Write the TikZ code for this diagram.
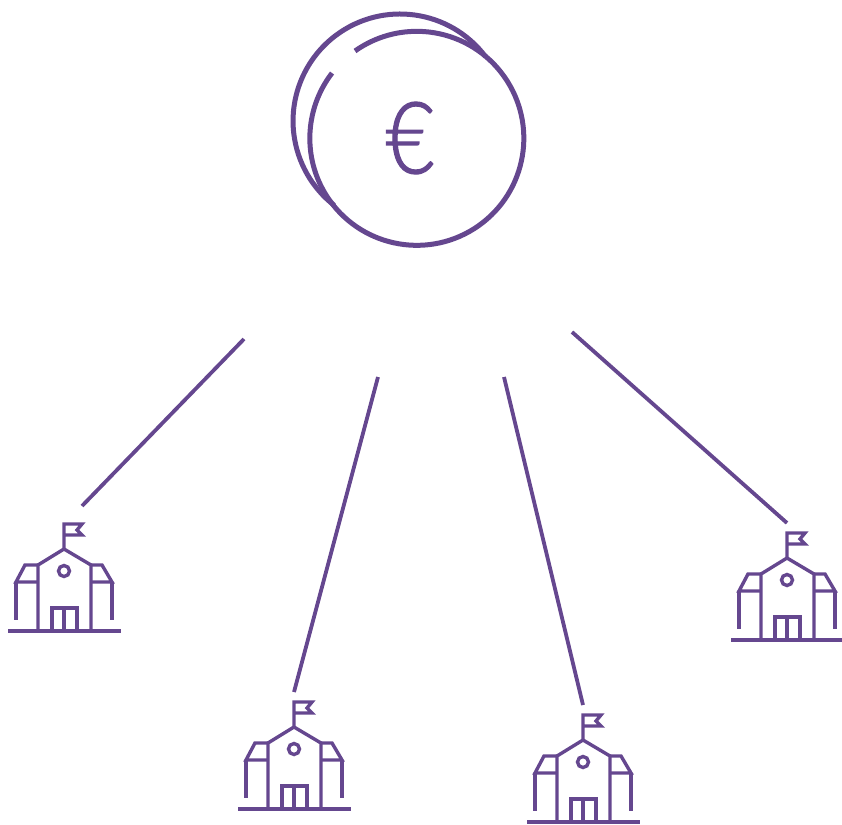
\documentclass[tikz,border=0pt]{standalone}
\usepackage{fontspec}
\newfontfamily\eurofont[FakeBold=1.2, FakeStretch=0.84]{Lato Light}
\definecolor{iconColor}{RGB}{101,71,143}
\tikzset{iconline/.style={draw=iconColor, line width=3.4pt}}
\tikzset{coinline/.style={draw=iconColor, line width=5pt}}
\tikzset{linkline/.style={draw=iconColor, line width=3.8pt}}
\tikzset{school/.pic={
	% body and roof
	\draw [iconline] (-26,82) -- (-26,16) -- (0,0) -- (27,16) -- (27,82);
	% wings
	\draw [iconline] (-26,16) -- (-39,16) -- (-48,33) -- (-26,33);
	\draw [iconline] (-48,33) -- (-48,71);
	\draw [iconline] (27,16) -- (38,16) -- (48,33) -- (27,33);
	\draw [iconline] (48,33) -- (48,71);
	% flag
	\draw [iconline] (0,0) -- (0,-25) -- (18,-25) -- (13,-19) -- (18,-14) -- (0,-14);
	% window and door
	\draw [iconline] (0,22) circle (5.5);
	\draw [iconline] (-12,82) -- (-12,59) -- (13,59) -- (13,82);
	\draw [iconline] (0,59) -- (0,82);
	% ground
	\draw [draw=iconColor, line width=3.8pt] (-56,82) -- (57,82);
}}

\begin{document}
\begin{tikzpicture}[x=1pt, y=-1pt]
	\useasboundingbox (0,0) rectangle (842,824);
	% Coin
	\draw [coinline] (485.5,56.6) arc[start angle=-37, end angle=-232, radius=107];
	\draw [coinline] (355,51) arc[start angle=-125.3, end angle=217.6, radius=107];
	\node (euro) [text=iconColor, inner sep=0pt, font=\eurofont\fontsize{100}{100}\selectfont] at (410,138) {€};

	% Schools
	\pic (schoolA) at (64,549) {school};
	\pic (schoolB) at (294,727) {school};
	\pic (schoolC) at (583,740) {school};
	\pic (schoolD) at (787,558) {school};

	% Connectors
	\coordinate (linkAtop) at (244,339);
	\coordinate (linkAend) at (82,506);
	\coordinate (linkBtop) at (378,377);
	\coordinate (linkBend) at (294,692);
	\coordinate (linkCtop) at (504,377);
	\coordinate (linkCend) at (583,705);
	\coordinate (linkDtop) at (572,332);
	\coordinate (linkDend) at (787,523);
	\draw [linkline] (linkAtop) -- (linkAend);
	\draw [linkline] (linkBtop) -- (linkBend);
	\draw [linkline] (linkCtop) -- (linkCend);
	\draw [linkline] (linkDtop) -- (linkDend);
\end{tikzpicture}
\end{document}
